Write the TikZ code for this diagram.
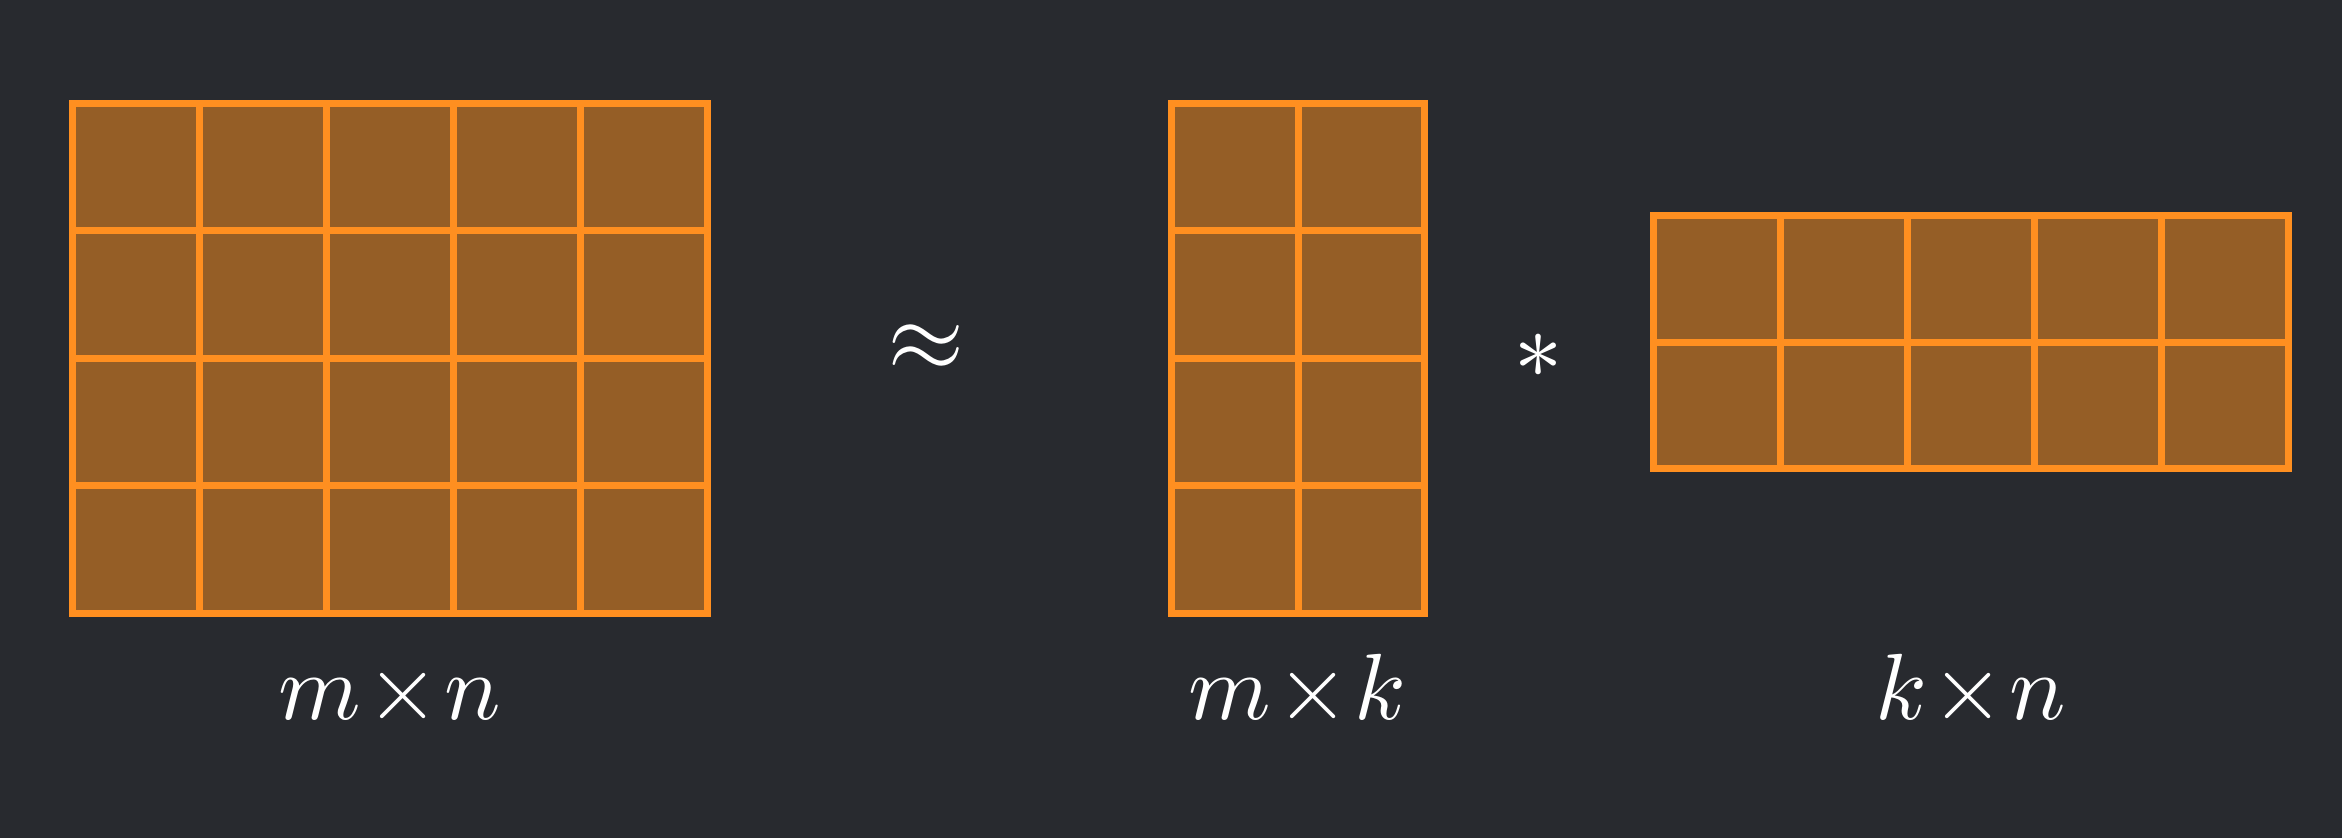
\documentclass[tikz,border=0pt]{standalone}
\usepackage{fontspec}
\usepackage{unicode-math}
\setmathfont{Latin Modern Math}
\definecolor{bg}{RGB}{40,42,47}
\definecolor{cellfill}{RGB}{149,94,38}
\definecolor{cellline}{RGB}{255,143,32}
\begin{document}
\begin{tikzpicture}[x=0.5pt,y=-0.5pt,
  mat/.style={fill=cellfill,draw=cellline,line width=3.5pt},
  gridl/.style={draw=cellline,line width=3.5pt},
  lbl/.style={text=white,anchor=base,font=\fontsize{47}{50}\selectfont,inner sep=0pt},
  op/.style={text=white,inner sep=0pt}]
\fill[bg] (0,0) rectangle (2342,838);
\useasboundingbox (0,0) rectangle (2342,838);
% left matrix m x n
\draw[mat] (72.5,103.5) rectangle (707.5,613.5);
\foreach \i in {1,...,4} \draw[gridl] (72.5+127*\i,103.5) -- (72.5+127*\i,613.5);
\foreach \j in {1,...,3} \draw[gridl] (72.5,103.5+127.5*\j) -- (707.5,103.5+127.5*\j);
% middle matrix m x k
\draw[mat] (1171.5,103.5) rectangle (1424.5,613.5);
\draw[gridl] (1298,103.5) -- (1298,613.5);
\foreach \j in {1,...,3} \draw[gridl] (1171.5,103.5+127.5*\j) -- (1424.5,103.5+127.5*\j);
% right matrix k x n
\draw[mat] (1653.5,215.5) rectangle (2288.5,469);
\foreach \i in {1,...,4} \draw[gridl] (1653.5+127*\i,215.5) -- (1653.5+127*\i,469);
\draw[gridl] (1653.5,342.25) -- (2288.5,342.25);
% operators
\node[op,font=\fontsize{50}{54}\selectfont] (approx) at (926,348) {$\approx$};
\node[op,font=\fontsize{48}{52}\selectfont] (star) at (1538,356) {$\ast$};
% labels
\node[lbl] (l1) at (390,720) {$m\!\times\! n$};
\node[lbl] (l2) at (1297,720) {$m\!\times\! k$};
\node[lbl] (l3) at (1971,720) {$k\!\times\! n$};
\end{tikzpicture}
\end{document}
